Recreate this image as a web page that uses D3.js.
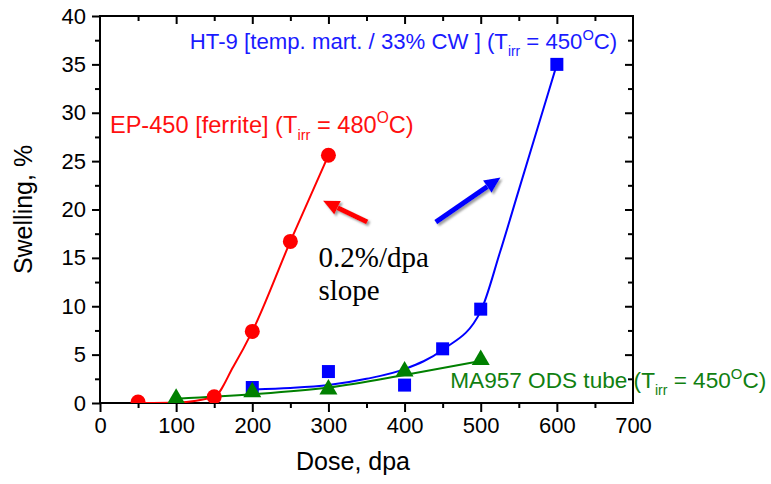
<!DOCTYPE html>
<html>
<head>
<meta charset="utf-8">
<script src="https://cdn.jsdelivr.net/npm/d3@7"></script>
<style>
  body { margin: 0; background: #fff; }
  svg { display: block; font-family: "Liberation Sans", Arial, sans-serif; }
</style>
</head>
<body>
<svg id="chart" width="771" height="484"></svg>
<script>
// data
var epDose = [50, 150, 200, 250, 300];
var epSwell = [0.1, 0.65, 7.4, 16.7, 25.6];
var epFitDose = [55, 100, 150, 175, 200, 250, 300];
var epFitSwell = [0, 0.05, 0.65, 3.75, 7.4, 16.7, 25.6];

var htDose = [200, 300, 400, 450, 500, 600];
var htSwell = [1.6, 3.25, 1.85, 5.6, 9.7, 35];
var htFitDose = [200, 250, 300, 350, 400, 450, 500, 525, 550, 575, 600];
var htFitSwell = [1.4, 1.55, 1.85, 2.5, 3.5, 5.5, 9.5, 15.5, 22, 28.5, 35];

var maDose = [100, 200, 300, 400, 500];
var maSwell = [0.5, 1.15, 1.45, 3.3, 4.5];
var maFitDose = [100, 200, 300, 400, 500];
var maFitSwell = [0.45, 0.9, 1.6, 2.9, 4.35];

var xTicks = [0, 100, 200, 300, 400, 500, 600, 700];
var yTicks = [0, 5, 10, 15, 20, 25, 30, 35, 40];

//layout
var plotLeft = 100, plotRight = 633, plotTop = 16, plotBottom = 403;

var svg = d3.select("#chart");
var x = d3.scaleLinear().domain([0, 700]).range([plotLeft, plotRight]);
var y = d3.scaleLinear().domain([0, 40]).range([plotBottom, plotTop]);

var defs = svg.append("defs");
defs.append("clipPath").attr("id", "plotClip")
    .append("rect")
    .attr("x", plotLeft).attr("y", plotTop)
    .attr("width", plotRight - plotLeft).attr("height", plotBottom - plotTop);
var shadow = defs.append("filter").attr("id", "shadow")
    .attr("x", "-20%").attr("y", "-20%").attr("width", "150%").attr("height", "150%");
shadow.append("feDropShadow")
    .attr("dx", 2).attr("dy", 2).attr("stdDeviation", 1.2)
    .attr("flood-color", "#888").attr("flood-opacity", 0.8);

// axes: bottom/left ticks outward, top/right ticks inward
var minorX = d3.range(50, 700, 100);
var minorY = d3.range(2.5, 40, 5);

var gx = svg.append("g").attr("transform", "translate(0," + plotBottom + ")")
    .call(d3.axisBottom(x).tickValues(xTicks).tickSize(9).tickPadding(5).tickSizeOuter(0));
gx.selectAll(".tick").filter(function (d) { return d === 700; }).select("line").remove();
svg.append("g").attr("transform", "translate(0," + plotBottom + ")")
    .call(d3.axisBottom(x).tickValues(minorX).tickSize(5).tickFormat("").tickSizeOuter(0));

var gy = svg.append("g").attr("transform", "translate(" + plotLeft + ",0)")
    .call(d3.axisLeft(y).tickValues(yTicks).tickSize(8).tickPadding(6).tickSizeOuter(0));
svg.append("g").attr("transform", "translate(" + plotLeft + ",0)")
    .call(d3.axisLeft(y).tickValues(minorY).tickSize(5).tickFormat("").tickSizeOuter(0));

svg.append("g").attr("transform", "translate(0," + plotTop + ")")
    .call(d3.axisBottom(x).tickValues(xTicks.slice(1, -1)).tickSize(8).tickFormat("").tickSizeOuter(0));
svg.append("g").attr("transform", "translate(0," + plotTop + ")")
    .call(d3.axisBottom(x).tickValues(minorX).tickSize(5).tickFormat("").tickSizeOuter(0));
svg.append("g").attr("transform", "translate(" + plotRight + ",0)")
    .call(d3.axisLeft(y).tickValues(yTicks.slice(1, -1)).tickSize(8).tickFormat("").tickSizeOuter(0));
svg.append("g").attr("transform", "translate(" + plotRight + ",0)")
    .call(d3.axisLeft(y).tickValues(minorY).tickSize(5).tickFormat("").tickSizeOuter(0));

svg.selectAll(".domain").remove();
svg.selectAll(".tick line").attr("stroke", "#000").attr("stroke-width", 2);
svg.selectAll(".tick text").attr("font-size", 22).attr("fill", "#000")
    .attr("font-family", "Liberation Sans, Arial, sans-serif");

// frame
svg.append("rect")
    .attr("x", plotLeft).attr("y", plotTop)
    .attr("width", plotRight - plotLeft).attr("height", plotBottom - plotTop)
    .attr("fill", "none").attr("stroke", "#000").attr("stroke-width", 2);

// axis titles
svg.append("text")
    .attr("x", 353).attr("y", 470)
    .attr("text-anchor", "middle").attr("font-size", 25)
    .text("Dose, dpa");
svg.append("text")
    .attr("transform", "translate(32," + (plotTop + plotBottom) / 2 + ") rotate(-90)")
    .attr("text-anchor", "middle").attr("font-size", 25)
    .text("Swelling, %");

// curves and markers
var plot = svg.append("g").attr("clip-path", "url(#plotClip)");

var line = d3.line()
    .x(function (d) { return x(d[0]); })
    .y(function (d) { return y(d[1]); })
    .curve(d3.curveMonotoneX);

var series = [
    {fd: epFitDose, fs: epFitSwell, d: epDose, s: epSwell, color: "#ff0000", shape: "circle"},
    {fd: htFitDose, fs: htFitSwell, d: htDose, s: htSwell, color: "#0000ff", shape: "square"},
    {fd: maFitDose, fs: maFitSwell, d: maDose, s: maSwell, color: "#008000", shape: "triangle"}
];

series.forEach(function (sr) {
    plot.append("path")
        .attr("d", line(d3.zip(sr.fd, sr.fs)))
        .attr("fill", "none")
        .attr("stroke", sr.color)
        .attr("stroke-width", 2);
});

series.forEach(function (sr) {
    var pts = d3.zip(sr.d, sr.s);
    if (sr.shape === "circle") {
        plot.selectAll(null).data(pts).enter().append("circle")
            .attr("cx", function (d) { return x(d[0]); })
            .attr("cy", function (d) { return y(d[1]); })
            .attr("r", 7.5)
            .attr("fill", sr.color);
    } else if (sr.shape === "square") {
        plot.selectAll(null).data(pts).enter().append("rect")
            .attr("x", function (d) { return x(d[0]) - 6.5; })
            .attr("y", function (d) { return y(d[1]) - 6.5; })
            .attr("width", 13).attr("height", 13)
            .attr("fill", sr.color);
    } else {
        plot.selectAll(null).data(pts).enter().append("path")
            .attr("transform", function (d) { return "translate(" + x(d[0]) + "," + y(d[1]) + ")"; })
            .attr("d", "M0,-10L9,5.5L-9,5.5Z")
            .attr("fill", sr.color);
    }
});

// labels with T_irr subscript and degree "O" superscript
var addLabel = function (dose, swell, color, prefix, temp, fs) {
    var t = svg.append("text")
        .attr("x", x(dose)).attr("y", y(swell))
        .attr("font-size", fs).attr("fill", color);
    t.append("tspan").text(prefix + "(T");
    t.append("tspan").attr("font-size", fs * 0.62).attr("dy", fs * 0.3).text("irr");
    t.append("tspan").attr("dy", -fs * 0.3).text(" = " + temp);
    t.append("tspan").attr("font-size", fs * 0.66).attr("dy", -fs * 0.42).text("O");
    t.append("tspan").attr("dy", fs * 0.42).text("C)");
};
addLabel(118, 36.6, "#1a1aff", "HT-9 [temp. mart. / 33% CW ] ", "450", 22.2);
addLabel(13, 27.9, "#ff1010", "EP-450 [ferrite] ", "480", 23.6);
addLabel(460, 1.55, "#108010", "MA957 ODS tube ", "450", 22.6);

// slope note
svg.append("text")
    .attr("x", x(287)).attr("y", y(14.06))
    .attr("font-family", "Liberation Serif, Times New Roman, serif")
    .attr("font-size", 29).attr("fill", "#000")
    .text("0.2%/dpa");
svg.append("text")
    .attr("x", x(287)).attr("y", y(10.65))
    .attr("font-family", "Liberation Serif, Times New Roman, serif")
    .attr("font-size", 29).attr("fill", "#000")
    .text("slope");

// arrows
var drawArrow = function (from, to, color) {
    var x1 = x(from[0]), y1 = y(from[1]), x2 = x(to[0]), y2 = y(to[1]);
    var a = Math.atan2(y2 - y1, x2 - x1);
    var hl = 16, hw = 7.5;
    var bx = x2 - hl * Math.cos(a), by = y2 - hl * Math.sin(a);
    var g = svg.append("g").attr("filter", "url(#shadow)");
    g.append("line")
        .attr("x1", x1).attr("y1", y1).attr("x2", bx).attr("y2", by)
        .attr("stroke", color).attr("stroke-width", 5);
    g.append("polygon")
        .attr("points", [
            [x2, y2],
            [bx + hw * Math.sin(a), by - hw * Math.cos(a)],
            [bx - hw * Math.sin(a), by + hw * Math.cos(a)]
        ].map(function (p) { return p.join(","); }).join(" "))
        .attr("fill", color);
};
drawArrow([351, 18.7], [293, 20.9], "#ff0000");
drawArrow([441, 18.7], [526, 23.3], "#0000ff");
</script>
</body>
</html>
